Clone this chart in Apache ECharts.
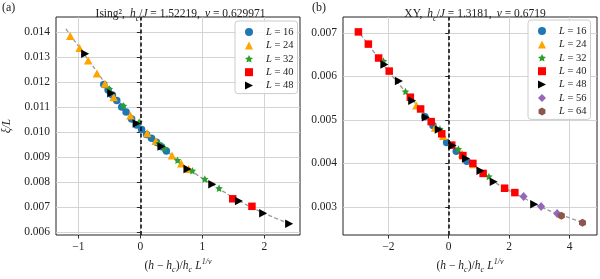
<!DOCTYPE html>
<html><head><meta charset="utf-8">
<script src="https://cdn.jsdelivr.net/npm/echarts@6/dist/echarts.min.js"></script>
<style>html,body{margin:0;padding:0;background:#fff}#c{width:600px;height:279px}</style>
</head><body><div id="c"></div>
<script>
// ---------- Panel (a): Ising^2 ----------
const a16x = [-0.59,-0.52,-0.45,-0.38,-0.30,-0.23,-0.14,-0.06,0.02,0.10,0.18,0.26,0.34,0.42];
const a16y = [0.01190,0.01168,0.01148,0.01126,0.01100,0.01080,0.01052,0.01028,0.01010,0.00990,0.00975,0.00960,0.00942,0.00925];
const a24x = [-1.13,-0.98,-0.84,-0.70,-0.57,-0.43,-0.16,0.11,0.25,0.51,0.66,0.78];
const a24y = [0.01383,0.01335,0.01286,0.01234,0.01193,0.01139,0.01066,0.00995,0.00965,0.00907,0.00875,0.00853];
const a32x = [-0.50,-0.27,-0.02,0.30,0.39,0.60,0.84,1.04,1.27];
const a32y = [0.01172,0.01105,0.01040,0.00955,0.00936,0.00888,0.00846,0.00813,0.00776];
const a40x = [1.49,1.80];
const a40y = [0.00734,0.00704];
const a48x = [-0.89,-0.47,-0.06,0.34,0.76,1.16,1.59,1.98,2.40];
const a48y = [0.01313,0.01155,0.01034,0.00943,0.00853,0.00792,0.00725,0.00676,0.00634];
const aFitX = [-1.20,-0.80,-0.40,0.00,0.40,0.80,1.20,1.60,2.00,2.45];
const aFitY = [0.01412,0.01275,0.01140,0.01020,0.00930,0.00850,0.00785,0.00725,0.00676,0.00630];
const aXTicks = [-1,0,1,2];
const aYTicks = [0.006,0.007,0.008,0.009,0.010,0.011,0.012,0.013,0.014];

// ---------- Panel (b): XY ----------
const b16x = [-0.79,-0.52,-0.07,0.25,0.60];
const b16y = [0.00507,0.00487,0.00448,0.00428,0.00405];
const b24x = [-1.07,-0.45,-0.18,0.44,0.82];
const b24y = [0.00533,0.00482,0.00463,0.00422,0.00398];
const b32x = [-2.16,-1.43,-0.29,0.32,1.33];
const b32y = [0.00635,0.00565,0.00479,0.00433,0.00370];
const b40x = [-2.99,-2.66,-2.32,-1.97,-1.27,-0.93,-0.58,-0.23,0.10,0.47,0.80,1.14,1.85,2.19];
const b40y = [0.00702,0.00674,0.00642,0.00612,0.00552,0.00525,0.00496,0.00468,0.00442,0.00418,0.00400,0.00377,0.00343,0.00333];
const b48x = [-2.13,-1.65,-1.21,-0.76,-0.33,0.13,0.57,1.05,1.49,2.83];
const b48y = [0.00627,0.00589,0.00544,0.00506,0.00478,0.00441,0.00411,0.00383,0.00358,0.00306];
const b56x = [2.48,3.06,3.59];
const b56y = [0.00324,0.00301,0.00285];
const b64x = [3.73,4.43];
const b64y = [0.00280,0.00264];
const bFitX = [-3.05,-2.5,-2.0,-1.5,-1.0,-0.5,0.0,0.5,1.0,1.5,2.0,2.5,3.0,3.5,4.0,4.5];
const bFitY = [0.00708,0.00658,0.00612,0.00570,0.00530,0.00491,0.00453,0.00417,0.00386,0.00358,0.00338,0.00320,0.00302,0.00287,0.00275,0.00262];
const bXTicks = [-2,0,2,4];
const bYTicks = [0.003,0.004,0.005,0.006,0.007];

const Ls = [16,24,32,40,48,56,64];
const names = Ls.map(l => 'L = ' + l);

const FONT = 'Liberation Serif';
const STAR = 'path://M0,-10 L2.94,-4.05 9.51,-3.09 4.76,1.55 5.88,8.09 0,5 -5.88,8.09 -4.76,1.55 -9.51,-3.09 -2.94,-4.05Z';
const HEX = 'path://M0,-10 L8.66,-5 8.66,5 0,10 -8.66,5 -8.66,-5Z';
const TRI_R = 'path://M0,0 L10,5 L0,10 Z';
const styles = {
  16: {symbol:'circle', size:7.5, color:'#1f77b4'},
  24: {symbol:'triangle', size:[8.5,8], color:'#ffa500'},
  32: {symbol:STAR, size:7.5, color:'#2ca02c'},
  40: {symbol:'rect', size:7.5, color:'#ff0000'},
  48: {symbol:TRI_R, size:[8,8.5], color:'#000000'},
  56: {symbol:'diamond', size:[8,9], color:'#9467bd'},
  64: {symbol:HEX, size:[7,8], color:'#8c564b'}
};
const zip = (xs, ys) => xs.map((x, i) => [x, ys[i]]);

function scatter(L, xs, ys, idx) {
  const s = styles[L];
  return {
    type:'scatter', name:'L = ' + L, xAxisIndex:idx, yAxisIndex:idx,
    data: zip(xs, ys), symbol:s.symbol, symbolSize:s.size,
    itemStyle:{color:s.color, opacity:1}, z:3, silent:true
  };
}
function fit(xs, ys, idx) {
  return {
    type:'line', name:'fit' + idx, xAxisIndex:idx, yAxisIndex:idx, data: zip(xs, ys),
    smooth:true, showSymbol:false, symbol:'none', z:1, silent:true,
    lineStyle:{color:'#9a9a9a', width:1.3, type:[4,2.5]},
    markLine:{silent:true, symbol:['none','none'], label:{show:false},
      lineStyle:{color:'#000', width:1.5, type:[4,2.5]}, data:[{xAxis:0}], animation:false}
  };
}

const base = {fontFamily:FONT, color:'#222', fontWeight:'normal', lineHeight:16};
const rich = {
  n:Object.assign({}, base, {fontSize:11.5, verticalAlign:'middle'}),
  i:Object.assign({}, base, {fontSize:11.5, fontStyle:'italic', verticalAlign:'middle'}),
  s:Object.assign({}, base, {fontSize:8, fontStyle:'italic', verticalAlign:'bottom'}),
  u:Object.assign({}, base, {fontSize:8, fontStyle:'italic', verticalAlign:'top'})
};
const minus = v => v < 0 ? '\u2212' + Math.abs(v) : String(v);

function xAxis(idx, min, max, ticks, step) {
  return {
    type:'value', gridIndex:idx, min:min, max:max, minInterval:step, maxInterval:step,
    name:'{n|(}{i|h}{n| \u2212 }{i|h}{s|c}{n|)/}{i|h}{s|c} {i|L}{u|1/\u03bd}',
    nameLocation:'middle', nameGap:23,
    nameTextStyle:{rich:rich},
    axisLine:{show:false},
    axisTick:{show:true, length:3.5, inside:false, customValues:ticks, lineStyle:{color:'#000', width:0.8}},
    axisLabel:{customValues:ticks, formatter:minus, fontFamily:FONT, fontSize:11.5, color:'#222', margin:6},
    splitLine:{show:true, lineStyle:{color:'#cfcfcf', width:0.9}}
  };
}
function yAxis(idx, min, max, ticks, withName) {
  return {
    type:'value', gridIndex:idx, min:min, max:max, minInterval:0.001, maxInterval:0.001,
    name: withName ? '{i|\u03be/L}' : '', nameLocation:'middle', nameGap:41, nameRotate:90,
    nameTextStyle:{rich:rich},
    axisLine:{show:false},
    axisTick:{show:true, length:3.5, customValues:ticks, lineStyle:{color:'#000', width:0.8}},
    axisLabel:{customValues:ticks, formatter:v => v.toFixed(3), fontFamily:FONT, fontSize:11.5, color:'#222', margin:6},
    splitLine:{show:true, lineStyle:{color:'#cfcfcf', width:0.9}}
  };
}
function legend(left, top, data) {
  return {
    orient:'vertical', left:left, top:top, data:data,
    itemWidth:8, itemHeight:8, itemGap:1.4, padding:[5,4,2,10],
    backgroundColor:'rgba(255,255,255,0.85)', borderColor:'#cccccc', borderWidth:1, borderRadius:3,
    formatter: n => '{i|L}{n| = ' + n.slice(4) + '}',
    textStyle:{padding:[0,0,0,8], lineHeight:12, rich:{
      i:{fontFamily:FONT, fontSize:10.5, fontStyle:'italic', color:'#222'},
      n:{fontFamily:FONT, fontSize:10.5, color:'#222'}}},
    selectedMode:false
  };
}

const option = {
  animation:false,
  backgroundColor:'#fff',
  grid:[
    {left:51, top:17, width:249, height:225, show:true, borderColor:'#222', borderWidth:1, backgroundColor:'transparent', containLabel:false},
    {left:343, top:17, width:254, height:225, show:true, borderColor:'#222', borderWidth:1, backgroundColor:'transparent', containLabel:false}
  ],
  title:[
    {text:'{n|Ising\u00b2,} {i|h}{s|c}{n|/}{i|J}{n| = 1.52219,} {i|\u03bd}{n| = 0.629971}', left:175.5, top:0, textAlign:'center',
     textStyle:{fontWeight:'normal', rich:rich}},
    {text:'{n|XY,} {i|h}{s|c}{n|/}{i|J}{n| = 1.3181,} {i|\u03bd}{n| = 0.6719}', left:470, top:0, textAlign:'center',
     textStyle:{fontWeight:'normal', rich:rich}}
  ],
  graphic:[
    {type:'text', left:2, top:2, style:{text:'(a)', font:'12px "Liberation Serif"', fill:'#222'}},
    {type:'text', left:312, top:2, style:{text:'(b)', font:'12px "Liberation Serif"', fill:'#222'}}
  ],
  legend:[
    legend(235, 21, names.slice(0,5)),
    legend(528, 20, names)
  ],
  xAxis:[ xAxis(0, -1.36, 2.575, aXTicks, 1), xAxis(1, -3.50, 4.91, bXTicks, 2) ],
  yAxis:[ yAxis(0, 0.005896, 0.014591, aYTicks, true), yAxis(1, 0.002356, 0.007362, bYTicks, false) ],
  series:[
    fit(aFitX, aFitY, 0),
    scatter(16, a16x, a16y, 0), scatter(24, a24x, a24y, 0), scatter(32, a32x, a32y, 0),
    scatter(40, a40x, a40y, 0), scatter(48, a48x, a48y, 0),
    fit(bFitX, bFitY, 1),
    scatter(16, b16x, b16y, 1), scatter(24, b24x, b24y, 1), scatter(32, b32x, b32y, 1),
    scatter(40, b40x, b40y, 1), scatter(48, b48x, b48y, 1), scatter(56, b56x, b56y, 1),
    scatter(64, b64x, b64y, 1)
  ]
};
const chart = echarts.init(document.getElementById('c'), null, {renderer:'canvas'});
chart.setOption(option);
</script></body></html>
